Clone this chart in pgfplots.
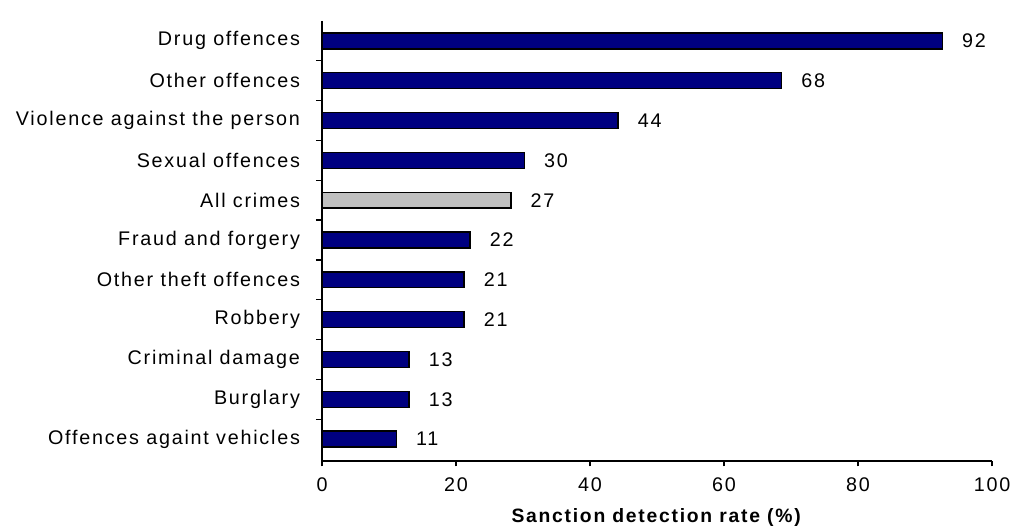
\documentclass[border=0pt]{standalone}
\usepackage{fontspec}
\setmainfont{Liberation Sans}[LetterSpace=9]
\usepackage{pgfplots}
\pgfplotsset{compat=1.18}
\definecolor{navybar}{RGB}{0,0,128}
\definecolor{graybar}{RGB}{192,192,192}
\begin{document}
\begin{tikzpicture}
\useasboundingbox (-241.5pt,-51.75pt) rectangle (523.5pt,345.75pt);
\begin{axis}[
  at={(0pt,0pt)}, anchor=south west,
  scale only axis, width=502.5pt, height=330pt,
  xbar, bar width=0.4, bar shift=0pt,
  xmin=0, xmax=100, ymin=-0.5, ymax=10.55, y dir=reverse,
  axis lines=left, axis line style={-, line width=0.9pt},
  xtick={0,20,...,100}, ytick={0,...,10},
  yticklabels={Drug offences, Other offences, Violence against the person, Sexual offences, All crimes, Fraud and forgery, Other theft offences, Robbery, Criminal damage, Burglary, Offences againt vehicles},
  minor ytick={0.5,1.5,...,9.5},
  tick align=outside,
  major tick length=4pt, minor tick length=4.5pt,
  every major y tick/.style={draw=none},
  every minor y tick/.style={draw=black, line width=0.9pt},
  every major x tick/.style={draw=black, line width=0.9pt},
  /pgf/number format/assume math mode=true,
  tick label style={font=\fontsize{14.8}{17}\selectfont},
  yticklabel style={xshift=-9pt},
  xticklabel style={yshift=-5pt},
  xlabel={\textbf{Sanction detection rate (\%)}},
  xlabel style={font=\fontsize{14.5}{17}\selectfont, yshift=-6pt},
  point meta=explicit symbolic,
  nodes near coords,
  nodes near coords style={anchor=west, xshift=11pt, font=\fontsize{14.8}{17}\selectfont, text=black},
  clip=false,
]
\addplot[fill=navybar, draw=black, line width=1pt] coordinates {
 (92.6,0) [92]
 (68.6,1) [68]
 (44.2,2) [44]
 (30.2,3) [30]
 (22.1,5) [22]
 (21.2,6) [21]
 (21.2,7) [21]
 (13.0,8) [13]
 (13.0,9) [13]
 (11.1,10) [11]
};
\addplot[fill=graybar, draw=black, line width=1pt] coordinates {
 (28.2,4) [27]
};
\end{axis}
\end{tikzpicture}
\end{document}
